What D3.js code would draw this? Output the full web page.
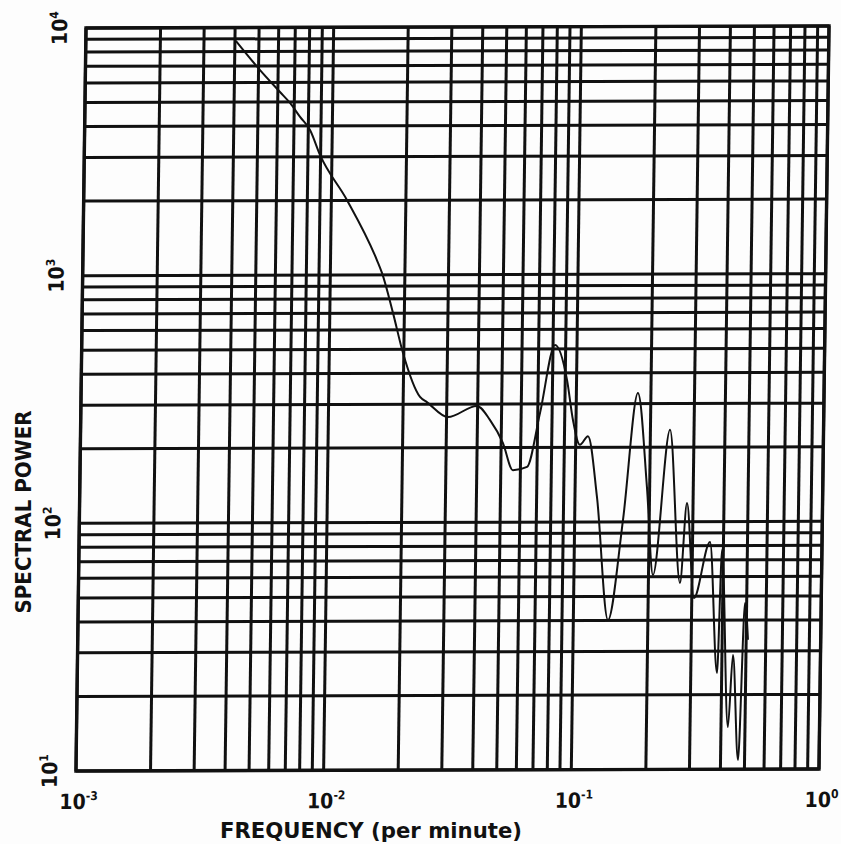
<!DOCTYPE html>
<html>
<head>
<meta charset="utf-8">
<script src="https://cdn.jsdelivr.net/npm/d3@7"></script>
<style>
  html, body { margin: 0; padding: 0; background: #fdfdfd; }
  svg { display: block; }
  text { font-family: "DejaVu Sans Condensed", "DejaVu Sans", sans-serif; font-weight: bold; fill: #111; }
</style>
</head>
<body>
<svg id="chart" width="841" height="844"></svg>
<script>
// Spectrum: frequency (per minute) vs spectral power
const freq = [
  0.00404, 0.00507, 0.00612, 0.00673, 0.0074, 0.00813, 0.00895, 0.01156,
  0.01539, 0.01616, 0.01799, 0.01985, 0.02338, 0.02494, 0.0304, 0.0397,
  0.0449, 0.0508, 0.056, 0.0638, 0.0715, 0.0815, 0.0915, 0.0972,
  0.104, 0.112, 0.1227, 0.138, 0.1567, 0.1772, 0.195, 0.2085,
  0.24, 0.2683, 0.2835, 0.306, 0.353, 0.383, 0.395, 0.4266,
  0.443, 0.4706, 0.4923, 0.5085
];
const power = [
  8830, 6735, 5490, 4955, 4350, 3855, 3055, 2008,
  1148, 1018, 702, 483, 321, 306, 266, 295,
  259, 209, 162, 167, 276, 519, 375, 258,
  205, 222, 126, 40.2, 101.7, 331, 138, 61,
  235, 56.6, 119, 49.2, 82.8, 24.5, 76.8, 14.8,
  28.9, 10.9, 46.9, 33.3
];
const xDomain = [1e-3, 1];
const yDomain = [1e1, 1e4];
const xTickExp = ["-3", "-2", "-1", "0"];
const yTickExp = ["1", "2", "3", "4"];
const xTitle = "FREQUENCY (per minute)";
const yTitle = "SPECTRAL POWER";

const W = 743, H = 743;
const svg = d3.select("#chart");

const x = d3.scaleLog().domain(xDomain).range([0, W]);
const y = d3.scaleLog().domain(yDomain).range([H, 0]);

// the printed sheet sits slightly sheared on the page
const plot = svg.append("g")
  .attr("transform", "matrix(1,-0.0027,-0.0135,1,86,28)");

const ink = "#111";

// log grid: every 1..9 multiple in each decade
plot.append("g").selectAll("line")
  .data(x.ticks())
  .join("line")
  .attr("x1", d => x(d)).attr("x2", d => x(d))
  .attr("y1", 0).attr("y2", H)
  .attr("stroke", ink).attr("stroke-width", 3);

plot.append("g").selectAll("line")
  .data(y.ticks())
  .join("line")
  .attr("x1", 0).attr("x2", W)
  .attr("y1", d => y(d)).attr("y2", d => y(d))
  .attr("stroke", ink).attr("stroke-width", 3);

plot.append("rect")
  .attr("x", 0).attr("y", 0).attr("width", W).attr("height", H)
  .attr("fill", "none").attr("stroke", ink).attr("stroke-width", 3.4);

// spectrum curve
const line = d3.line()
  .x((d, i) => x(freq[i]))
  .y((d, i) => y(power[i]))
  .curve(d3.curveMonotoneX);

plot.append("path")
  .datum(freq)
  .attr("d", line)
  .attr("fill", "none")
  .attr("stroke", ink)
  .attr("stroke-width", 2)
  .attr("stroke-linejoin", "round");

// x tick labels
const xt = plot.append("g").selectAll("text")
  .data(d3.range(xTickExp.length))
  .join("text")
  .attr("x", i => x(Math.pow(10, +xTickExp[i])) + 3)
  .attr("y", H + 38)
  .attr("text-anchor", "middle")
  .attr("font-size", 21);
xt.append("tspan").text("10");
xt.append("tspan").attr("dy", -9).attr("font-size", 12).text(i => xTickExp[i]);

// y tick labels, rotated
const yt = plot.append("g").selectAll("text")
  .data(d3.range(yTickExp.length))
  .join("text")
  .attr("transform", i => `translate(-19,${y(Math.pow(10, +yTickExp[i]))}) rotate(-90)`)
  .attr("text-anchor", "middle")
  .attr("font-size", 21);
yt.append("tspan").text("10");
yt.append("tspan").attr("dy", -9).attr("font-size", 12).text(i => yTickExp[i]);

// axis titles
svg.append("text")
  .attr("x", 371).attr("y", 838)
  .attr("text-anchor", "middle")
  .attr("font-size", 21)
  .attr("textLength", 302)
  .attr("lengthAdjust", "spacingAndGlyphs")
  .text(xTitle);

svg.append("text")
  .attr("transform", "translate(31,512) rotate(-90)")
  .attr("text-anchor", "middle")
  .attr("font-size", 21)
  .attr("textLength", 203)
  .attr("lengthAdjust", "spacingAndGlyphs")
  .text(yTitle);
</script>
</body>
</html>
